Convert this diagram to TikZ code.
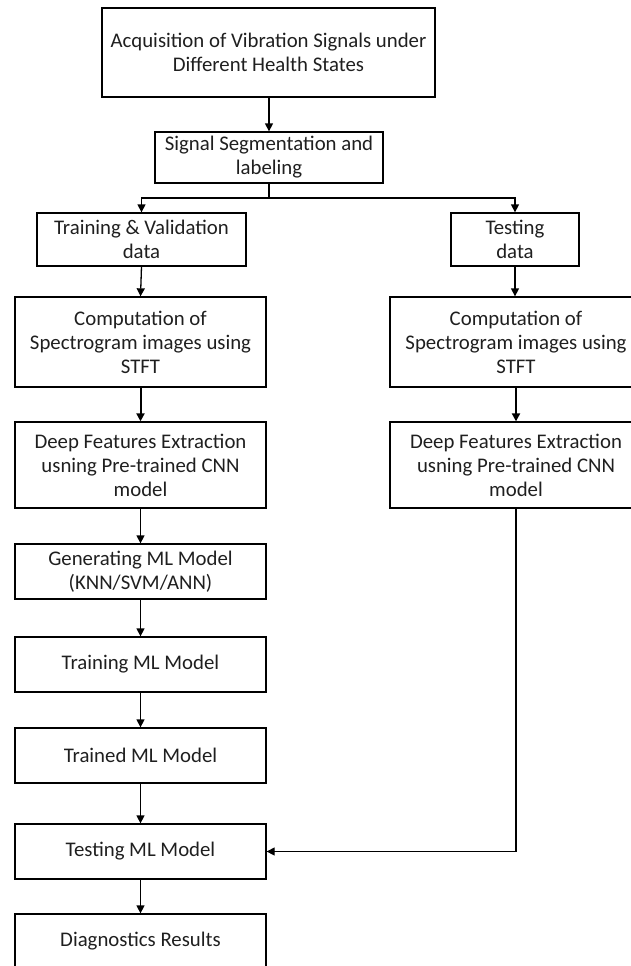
\documentclass[tikz,border=0pt]{standalone}
\usepackage{fontspec}
\setmainfont{Carlito}
\usetikzlibrary{arrows.meta}

\begin{document}
\begin{tikzpicture}[x=1pt,y=-1pt,
  box/.style={draw,line width=1.3pt,align=center,inner sep=0pt,
    text=black!88,font=\fontsize{20.8}{24}\selectfont},
  arr/.style={draw,line width=1.3pt,-{Triangle[length=8pt,width=8pt]}},
  thickarr/.style={arr,line width=2pt}]
\useasboundingbox (0,0) rectangle (630,966);
% top part
\node[box,minimum width=333pt,minimum height=89pt] (acq) at (268.5,52.5)
  {Acquisition of Vibration Signals under\\Different Health States};
\node[box,minimum width=228pt,minimum height=51pt] (seg) at (269,157.5)
  {Signal Segmentation and\\labeling};
\draw[arr] (acq.south -| seg.north) -- (seg.north);
\coordinate (fork) at (269,198);
\draw[line width=1.3pt] (seg.south) -- (fork);
% the two branches
\node[box,minimum width=209pt,minimum height=53pt] (train) at (141.5,239.5)
  {Training \& Validation\\data};
\node[box,minimum width=128pt,minimum height=53pt] (test) at (515,239.5)
  {Testing\\data};
\draw[arr] (fork) -| (train.north);
\draw[arr] (fork) -| (test.north);
\node[box,minimum width=251pt,minimum height=90pt] (compL) at (140.5,342)
  {Computation of\\Spectrogram images using\\STFT};
\node[box,minimum width=252pt,minimum height=90pt] (compR) at (516,342)
  {Computation of\\Spectrogram images using\\STFT};
\draw[arr] (train.south) -- (compL.north);
\draw[arr] (test.south) -- (test.south |- compR.north);
\node[box,minimum width=251pt,minimum height=86pt] (deepL) at (140.5,465)
  {Deep Features Extraction\\usning Pre-trained CNN\\model};
\node[box,minimum width=252pt,minimum height=86pt] (deepR) at (516,465)
  {Deep Features Extraction\\usning Pre-trained CNN\\model};
\draw[thickarr] (compL.south) -- (deepL.north);
\draw[thickarr] (compR.south) -- (deepR.north);
% ML chain
\node[box,minimum width=251pt,minimum height=55pt] (gen) at (140.5,571.5)
  {Generating ML Model\\(KNN/SVM/ANN)};
\node[box,minimum width=251pt,minimum height=55pt] (trainml) at (140.5,664.5)
  {Training ML Model};
\node[box,minimum width=251pt,minimum height=55pt] (trained) at (140.5,755.5)
  {Trained ML Model};
\node[box,minimum width=251pt,minimum height=55pt] (testml) at (140.5,851.5)
  {Testing ML Model};
\node[box,minimum width=251pt,minimum height=55pt] (diag) at (140.5,941.5)
  {Diagnostics Results};
\draw[arr] (deepL.south) -- (gen.north);
\draw[arr] (gen.south) -- (trainml.north);
\draw[arr] (trainml.south) -- (trained.north);
\draw[arr] (trained.south) -- (testml.north);
\draw[arr] (testml.south) -- (diag.north);
\draw[arr] (deepR.south) |- (testml.east);
\end{tikzpicture}
\end{document}
